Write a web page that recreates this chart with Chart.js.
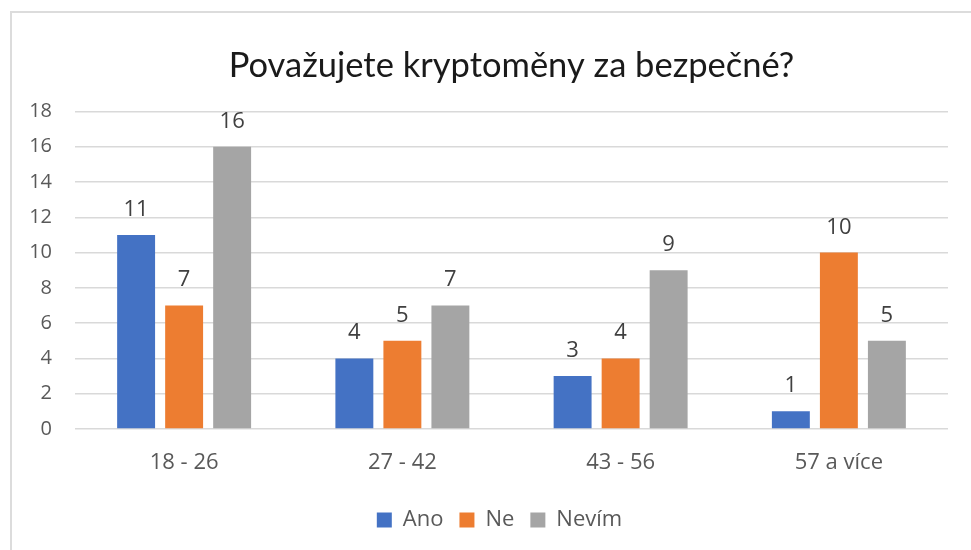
<!DOCTYPE html>
<html>
<head>
<meta charset="utf-8">
<script src="https://cdn.jsdelivr.net/npm/chart.js@4/dist/chart.umd.min.js"></script>
<style>
  html, body { margin: 0; padding: 0; background: #fff; }
  #wrap { position: relative; width: 971px; height: 550px; overflow: hidden; }
  #frame { position: absolute; left: 10px; top: 11px; width: 990px; height: 600px;
           border-left: 2px solid #dcdcdc; border-top: 2px solid #dcdcdc; box-sizing: border-box; }
  canvas { position: absolute; left: 0; top: 0; }
</style>
</head>
<body>
<div id="wrap">
  <div id="frame"></div>
  <canvas id="chart" width="971" height="550"></canvas>
</div>
<script>
// ---------- DATA ----------
const categories = ['18 - 26', '27 - 42', '43 - 56', '57 a více'];
const seriesNames = ['Ano', 'Ne', 'Nevím'];
const ano = [11, 4, 3, 1];
const ne = [7, 5, 4, 10];
const nevim = [16, 7, 9, 5];
const yTicks = [0, 2, 4, 6, 8, 10, 12, 14, 16, 18];

const colors = ['#4472C4', '#ED7D31', '#A5A5A5'];
const textFont = "'Open Sans', 'Noto Sans', sans-serif";

// value labels above the bars (no datalabels plugin available)
const barLabels = {
  id: 'barLabels',
  afterDatasetsDraw(chart) {
    const ctx = chart.ctx;
    ctx.save();
    ctx.font = '22px ' + textFont;
    ctx.fillStyle = '#404040';
    ctx.textAlign = 'center';
    ctx.textBaseline = 'alphabetic';
    chart.data.datasets.forEach((ds, i) => {
      chart.getDatasetMeta(i).data.forEach((bar, j) => {
        ctx.fillText(String(ds.data[j]), bar.x, bar.y - 19);
      });
    });
    ctx.restore();
  }
};

// excel centres the legend a bit left of the plot centre
const legendShift = {
  id: 'legendShift',
  afterLayout(chart) {
    if (chart.legend) {
      chart.legend.left -= 12;
      chart.legend.right -= 12;
    }
  }
};

new Chart(document.getElementById('chart'), {
  type: 'bar',
  data: {
    labels: categories,
    datasets: [
      { label: seriesNames[0], data: ano, backgroundColor: colors[0] },
      { label: seriesNames[1], data: ne, backgroundColor: colors[1] },
      { label: seriesNames[2], data: nevim, backgroundColor: colors[2] }
    ]
  },
  options: {
    responsive: false,
    animation: false,
    devicePixelRatio: 1,
    layout: { padding: { left: 0, right: 23, top: 0, bottom: 9 } },
    datasets: { bar: { categoryPercentage: 0.66, barPercentage: 0.79 } },
    plugins: {
      title: {
        display: true,
        fullSize: false,
        text: 'Považujete kryptoměny za bezpečné?',
        color: '#1a1a1a',
        font: { family: "Lato, 'Open Sans', sans-serif", size: 34.5, weight: 'normal' },
        padding: { top: 45, bottom: 25 }
      },
      legend: {
        position: 'bottom',
        fullSize: false,
        labels: {
          color: '#595959',
          font: { family: textFont, size: 22 },
          boxWidth: 15,
          boxHeight: 15,
          padding: 16
        }
      },
      tooltip: { enabled: false }
    },
    scales: {
      x: {
        grid: { display: false, drawTicks: false },
        border: { display: false },
        ticks: { color: '#595959', font: { family: textFont, size: 22 }, padding: 21 },
        afterFit(s) { s.height = 64; }
      },
      y: {
        min: 0,
        max: 18,
        afterBuildTicks(s) { s.ticks = yTicks.map(v => ({ value: v })); },
        grid: { color: '#d9d9d9', lineWidth: 1.5, drawTicks: false },
        border: { display: false },
        ticks: { color: '#595959', font: { family: textFont, size: 20 }, padding: 23 },
        afterFit(s) { s.width = 75; }
      }
    }
  },
  plugins: [barLabels, legendShift]
});
</script>
</body>
</html>
